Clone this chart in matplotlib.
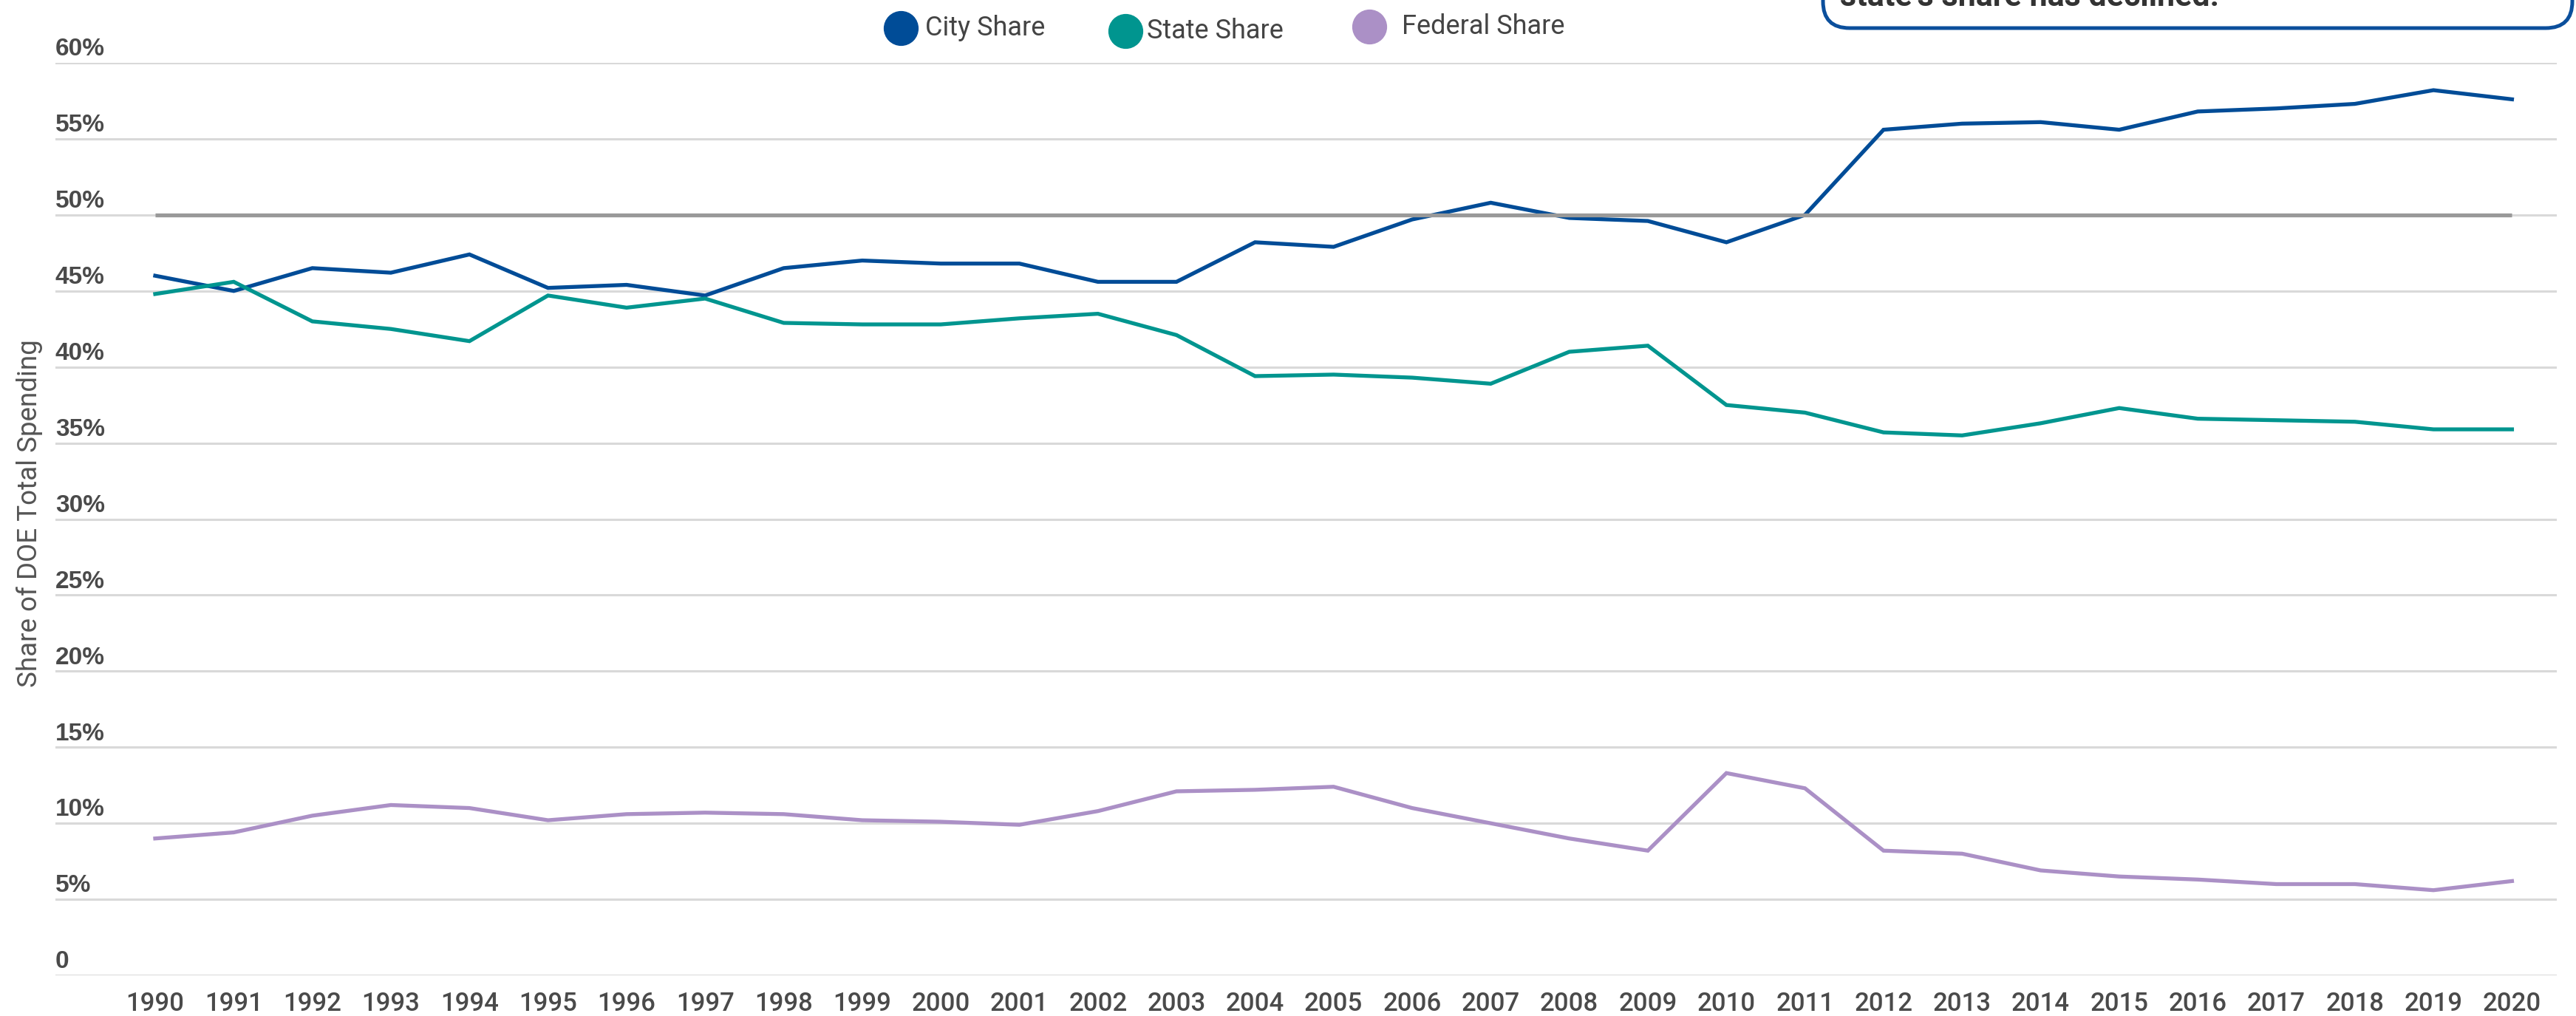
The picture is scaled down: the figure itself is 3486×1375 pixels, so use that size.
import matplotlib.pyplot as plt
from matplotlib.lines import Line2D
from matplotlib.patches import FancyBboxPatch
import matplotlib.transforms as mtransforms

years = list(range(1990, 2021))

city_share = [46.0, 45.0, 46.5, 46.2, 47.4, 45.2, 45.4, 44.7, 46.5, 47.0, 46.8,
              46.8, 45.6, 45.6, 48.2, 47.9, 49.7, 50.8, 49.8, 49.6, 48.2,
              50.0, 55.6, 56.0, 56.1, 55.6, 56.8, 57.0, 57.3, 58.2, 57.6]
state_share = [44.8, 45.6, 43.0, 42.5, 41.7, 44.7, 43.9, 44.5, 42.9, 42.8, 42.8,
               43.2, 43.5, 42.1, 39.4, 39.5, 39.3, 38.9, 41.0, 41.4, 37.5,
               37.0, 35.7, 35.5, 36.3, 37.3, 36.6, 36.5, 36.4, 35.9, 35.9]
federal_share = [9.0, 9.4, 10.5, 11.2, 11.0, 10.2, 10.6, 10.7, 10.6, 10.2, 10.1,
                 9.9, 10.8, 12.1, 12.2, 12.4, 11.0, 10.0, 9.0, 8.2, 13.3,
                 12.3, 8.2, 8.0, 6.9, 6.5, 6.3, 6.0, 6.0, 5.6, 6.2]

series_names = ["City Share", "State Share", "Federal Share"]
colors = ["#004c97", "#00958f", "#ab90c6"]
y_ticks = [0, 5, 10, 15, 20, 25, 30, 35, 40, 45, 50, 55, 60]
y_tick_labels = ["0"] + [f"{t}%" for t in y_ticks[1:]]
midline = 50

W, H = 3487, 1375
fig = plt.figure(figsize=(W / 100, H / 100), dpi=100)
ax = fig.add_axes([75 / W, 1 - 1320 / H, (3460 - 75) / W, (1320 - 85) / H])

# gridlines
for t in y_ticks:
    ax.axhline(t, color="#d9d9d9", lw=2.2, zorder=1)

ax.plot(years, city_share, color=colors[0], lw=3.8, zorder=3, solid_joinstyle="miter")
ax.plot(years, state_share, color=colors[1], lw=3.8, zorder=3, solid_joinstyle="miter")
ax.plot(years, federal_share, color=colors[2], lw=3.8, zorder=3, solid_joinstyle="miter")
ax.plot([years[0], years[-1]], [midline, midline], color="#999999", lw=3.8, zorder=4,
        solid_capstyle="butt")

ax.set_xlim(1988.73, 2020.57)
ax.set_ylim(0, 60)
for s in ax.spines.values():
    s.set_visible(False)
ax.set_yticks([])
ax.set_xticks(years)
ax.set_xticklabels([str(y) for y in years], fontsize=25, color="#4a4a4a",
                   fontfamily="Roboto", fontweight="medium")
ax.tick_params(axis="x", length=0, pad=16)

# y tick labels sit above their gridlines, left aligned
trans = mtransforms.blended_transform_factory(ax.transAxes, ax.transData)
for t, lab in zip(y_ticks, y_tick_labels):
    ax.annotate(lab, xy=(0, t), xycoords=trans, xytext=(0, 7), textcoords="offset points",
                ha="left", va="baseline", fontsize=24, fontweight="bold",
                color="#4a4a4a", fontfamily="Liberation Sans", annotation_clip=False)

fig.text(40 / W, 1 - 695 / H, "Share of DOE Total Spending", rotation=90,
         ha="center", va="center", fontsize=26.5, color="#555555", fontfamily="Roboto")

# legend
leg_pos = [(1219, 38, 1252), (1523, 42, 1552), (1853, 36, 1897)]
for (mx, my, tx), name, c in zip(leg_pos, series_names, colors):
    fig.add_artist(Line2D([mx / W], [1 - my / H], marker="o", markersize=33,
                          color=c, linestyle="none", transform=fig.transFigure))
    fig.text(tx / W, 1 - my / H, name, ha="left", va="center", fontsize=26,
             color="#444444", fontfamily="Roboto")

# annotation box, cut off at the top of the image
box = FancyBboxPatch((2467 + 36, H - 38 + 36), 3481 - 2467 - 72, 200,
                     boxstyle="round,pad=36,rounding_size=36", transform=None,
                     facecolor="white", edgecolor="#0b4f9c", lw=3.6, zorder=5)
fig.add_artist(box)
fig.text(2490 / W, 1 - 8 / H, "state's share has declined.", ha="left", va="baseline",
         fontsize=31, fontweight="bold", color="#333333", fontfamily="Roboto", zorder=6)

fig.savefig("out.png", dpi=100)
